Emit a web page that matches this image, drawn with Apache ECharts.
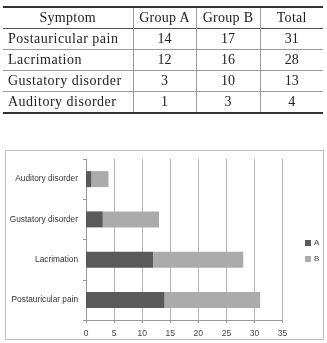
<!DOCTYPE html>
<html>
<head>
<meta charset="utf-8">
<script src="https://cdn.jsdelivr.net/npm/echarts@6/dist/echarts.min.js"></script>
<style>
html,body{margin:0;padding:0;background:#fff;width:327px;height:343px;overflow:hidden;}
#chart{position:absolute;left:0;top:0;width:327px;height:343px;}
#tbl{position:absolute;left:3px;top:6px;width:320px;border-collapse:collapse;table-layout:fixed;
 font-family:'Liberation Serif','DejaVu Serif',serif;font-size:14px;color:#222;z-index:2;}
#tbl td,#tbl th{padding:0;font-weight:normal;text-align:center;line-height:20px;height:20px;white-space:nowrap;}
#tbl tr{border-bottom:1px solid #9a9a9a;}
#tbl tr.head{border-top:2px solid #333;border-bottom:1px solid #555;}
#tbl tr.last{border-bottom:2px solid #333;}
#tbl td+td,#tbl th+th{border-left:1px solid #9a9a9a;}
#tbl td.lab{text-align:left;padding-left:5px;letter-spacing:0.5px;}
#tbl th{letter-spacing:0.3px;}
</style>
</head>
<body>
<div id="chart"></div>
<table id="tbl"></table>
<script>
var headers = ['Symptom','Group A','Group B','Total'];
var symptoms = ['Postauricular pain','Lacrimation','Gustatory disorder','Auditory disorder'];
var groupA = [14, 12, 3, 1];
var groupB = [17, 16, 10, 3];
var totals = [31, 28, 13, 4];
var xTicks = [0, 5, 10, 15, 20, 25, 30, 35];
var seriesNames = ['A', 'B'];

// build table
var tbl = document.getElementById('tbl');
var html = '<colgroup><col style="width:130px"><col style="width:63px"><col style="width:64px"><col style="width:63px"></colgroup>';
html += '<tr class="head">' + headers.map(function(h){return '<th>'+h+'</th>';}).join('') + '</tr>';
for (var i = 0; i < symptoms.length; i++) {
  html += '<tr' + (i === symptoms.length-1 ? ' class="last"' : '') + '><td class="lab">' + symptoms[i] + '</td><td>' + groupA[i] + '</td><td>' + groupB[i] + '</td><td>' + totals[i] + '</td></tr>';
}
tbl.innerHTML = html;

var chart = echarts.init(document.getElementById('chart'), null, {renderer:'canvas'});
var font = 'Liberation Sans';
chart.setOption({
  animation:false,
  backgroundColor:'#fff',
  graphic:[{type:'rect',shape:{x:5.5,y:150.5,width:318,height:189},style:{fill:'none',stroke:'#bdbdbd',lineWidth:1},z:0}],
  grid:{left:86,right:44.4,top:159,bottom:23,containLabel:false},
  legend:{
    orient:'vertical',left:300,top:234,itemWidth:6,itemHeight:6,itemGap:8,icon:'rect',
    textStyle:{fontFamily:font,fontSize:8,color:'#444',padding:[0,0,0,-2]},
    data:seriesNames
  },
  xAxis:{
    type:'value',min:xTicks[0],max:xTicks[xTicks.length-1],interval:5,
    axisLine:{show:true,lineStyle:{color:'#999'}},
    axisTick:{show:true,length:3,lineStyle:{color:'#999'}},
    splitLine:{show:true,lineStyle:{color:'#b5b5b5'}},
    axisLabel:{fontFamily:font,fontSize:8.5,color:'#444',margin:9}
  },
  yAxis:{
    type:'category',data:symptoms,
    axisLine:{show:true,lineStyle:{color:'#999'}},
    axisTick:{show:true,length:3,lineStyle:{color:'#999'}},
    axisLabel:{fontFamily:font,fontSize:8.3,color:'#333',margin:8}
  },
  series:[
    {name:seriesNames[0],type:'bar',stack:'t',data:groupA,barWidth:16,itemStyle:{color:'#5a5a5a'}},
    {name:seriesNames[1],type:'bar',stack:'t',data:groupB,barWidth:16,itemStyle:{color:'#ababab'}}
  ]
});
</script>
</body>
</html>
